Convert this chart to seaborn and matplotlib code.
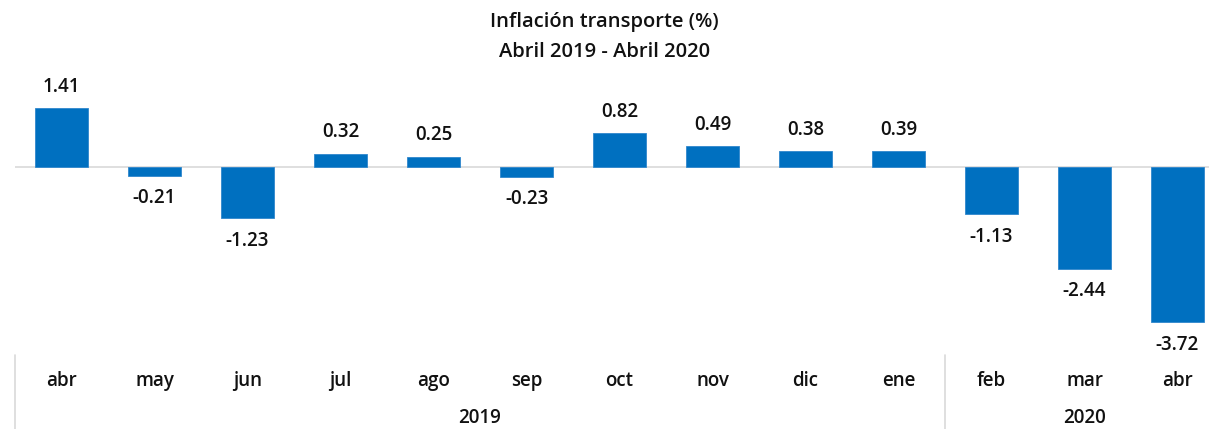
import matplotlib
matplotlib.use("Agg")
import matplotlib.pyplot as plt
import matplotlib.transforms as mtransforms
import seaborn as sns
import pandas as pd

# data
months = ["abr", "may", "jun", "jul", "ago", "sep", "oct", "nov", "dic", "ene", "feb", "mar", "abr"]
years = ["2019"] * 10 + ["2020"] * 3
values = [1.41, -0.21, -1.23, 0.32, 0.25, -0.23, 0.82, 0.49, 0.38, 0.39, -1.13, -2.44, -3.72]

df = pd.DataFrame({"mes": months, "anio": years, "valor": values})
df["key"] = df["mes"] + " " + df["anio"]

sns.set_theme(style="white")
plt.rcParams["font.family"] = ["Open Sans", "DejaVu Sans"]
TXT = dict(color="#111111", fontweight="semibold")

W, H = 1209, 429
fig = plt.figure(figsize=(W / 100, H / 100), dpi=100)

# plot area in pixels: x 15..1224 (clipped at right edge), y 70..355
left, right, top, bottom = 15, 1224, 70, 355
ax = fig.add_axes([left / W, 1 - bottom / H, (right - left) / W, (bottom - top) / H])

sns.barplot(data=df, x="key", y="valor", color="#0070C0", saturation=1,
            width=0.56, ax=ax, edgecolor="#2f86cc", linewidth=0.6)

ax.set_xlim(-0.5, len(df) - 0.5)
ax.set_ylim(-4.50, 2.32)
ax.axhline(0, color="#d9d9d9", lw=1.2, zorder=0)
for s in ax.spines.values():
    s.set_visible(False)
ax.set_xticks([])
ax.set_yticks([])
ax.set_xlabel("")
ax.set_ylabel("")

# value labels
for i, v in enumerate(df["valor"]):
    if v >= 0:
        ax.annotate(f"{v:.2f}", (i, v), xytext=(0, 8), textcoords="offset points",
                    ha="center", va="bottom", fontsize=13.5, **TXT)
    else:
        ax.annotate(f"{v:.2f}", (i, v), xytext=(0, -9), textcoords="offset points",
                    ha="center", va="top", fontsize=13.5, **TXT)

# two-level category axis
trans = mtransforms.blended_transform_factory(ax.transData, fig.transFigure)
for i, m in enumerate(df["mes"]):
    ax.text(i, 1 - 381 / H, m, transform=trans, ha="center", va="center",
            fontsize=13.5, clip_on=False, **TXT)

groups = df.groupby("anio", sort=False).size()
start = -0.5
for anio, n in groups.items():
    end = start + n
    ax.text((start + end) / 2, 1 - 418 / H, anio, transform=trans, ha="center",
            va="center", fontsize=13.5, clip_on=False, **TXT)
    ax.plot([start, start], [0, 1 - bottom / H], transform=trans, color="#d9d9d9",
            lw=1.2, clip_on=False)
    start = end

fig.text(0.5, 1 - 22 / H, "Inflación transporte (%)", ha="center", va="center",
         fontsize=14.5, **TXT)
fig.text(0.5, 1 - 52 / H, "Abril 2019 - Abril 2020", ha="center", va="center",
         fontsize=14.5, **TXT)

fig.savefig("out.png", dpi=100)
